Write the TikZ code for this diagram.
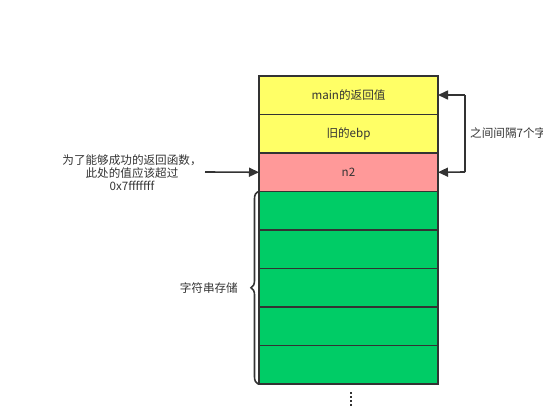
\documentclass[tikz,border=0pt]{standalone}
\usepackage{fontspec}
\setmainfont{Noto Sans CJK SC}
\usetikzlibrary{arrows.meta,decorations.pathreplacing}
\definecolor{yel}{HTML}{FFFF66}
\definecolor{pnk}{HTML}{FF9999}
\definecolor{grn}{HTML}{00CC66}
\definecolor{edge}{HTML}{333333}
\definecolor{txt}{HTML}{333333}
\tikzset{
  cell/.style={draw=edge, line width=1.6pt, minimum width=179pt, minimum height=38.5pt, inner sep=0pt, outer sep=0pt, text=txt, font=\fontsize{11.6}{13}\selectfont},
  lbl/.style={text=txt, font=\fontsize{11.6}{13}\selectfont, inner sep=0pt},
  arr/.style={draw=edge, line width=1.6pt, -{Triangle[length=10pt,width=9pt]}},
}
\begin{document}
\begin{tikzpicture}[x=1pt,y=-1pt]
\useasboundingbox (0,0) rectangle (543,407);
\node[cell, fill=yel, anchor=north west] (c1) at (259,76) {main的返回值};
\node[cell, fill=yel, anchor=north] (c2) at (c1.south) {旧的ebp};
\node[cell, fill=pnk, anchor=north] (c3) at (c2.south) {n2};
\node[cell, fill=grn, anchor=north] (c4) at (c3.south) {};
\node[cell, fill=grn, anchor=north] (c5) at (c4.south) {};
\node[cell, fill=grn, anchor=north] (c6) at (c5.south) {};
\node[cell, fill=grn, anchor=north] (c7) at (c6.south) {};
\node[cell, fill=grn, anchor=north] (c8) at (c7.south) {};
% left note
\node[lbl, align=center] (note) at (132,173) {为了能够成功的返回函数，\\此处的值应该超过\\0x7fffffff};
\coordinate (ns) at (205,172);
\draw[arr] (ns) -- (c3.west);
% right bracket
\coordinate (ra) at (465,95);
\coordinate (rb) at (465,172);
\draw[arr] (ra) -- (c1.east |- ra);
\draw[arr] (rb) -- (c3.east);
\draw[draw=edge, line width=1.6pt] (ra) -- (rb);
\node[lbl, anchor=west] (gap) at (470,133) {之间间隔7个字};
% brace
\draw[draw=edge, line width=1.6pt, decorate, decoration={brace, amplitude=7pt, raise=1pt}] (c8.south west) -- (c4.north west);
\node[lbl, anchor=east] (str) at (238,288) {字符串存储};
% dots
\coordinate (d1) at (351,392);
\coordinate (d2) at (351,407);
\draw[draw=edge, line width=1.6pt, dash pattern=on 1.5pt off 2.5pt] (d1) -- (d2);
\end{tikzpicture}
\end{document}
